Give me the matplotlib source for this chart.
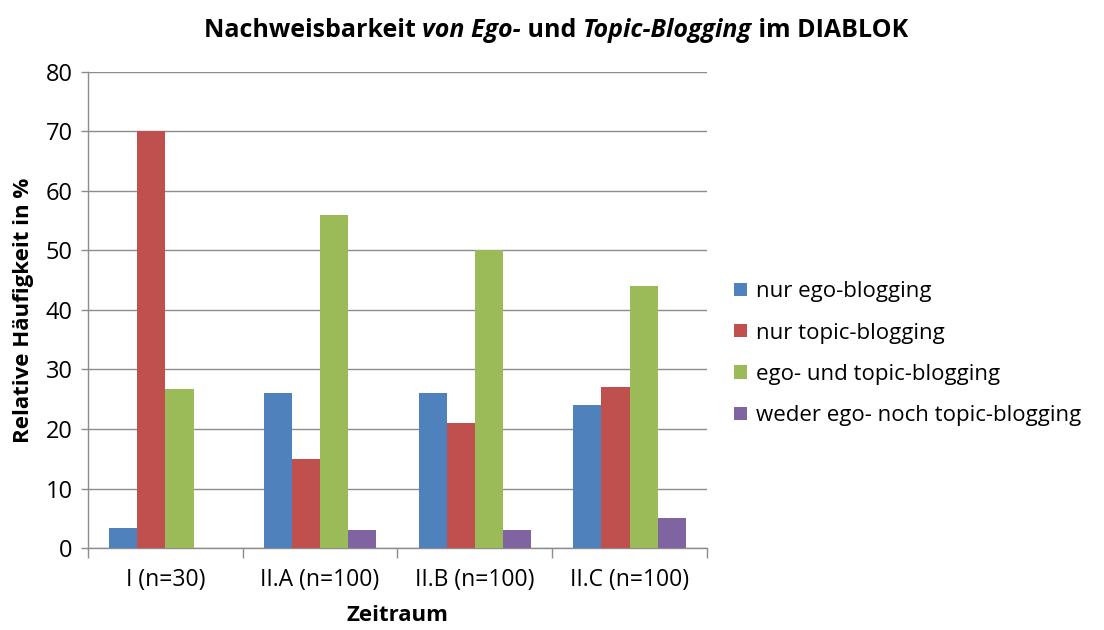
import numpy as np
import matplotlib
matplotlib.use('Agg')
import matplotlib.pyplot as plt
from matplotlib.ticker import FixedLocator

plt.rcParams['font.family'] = ['Open Sans', 'DejaVu Sans']

categories = ['I (n=30)', 'II.A (n=100)', 'II.B (n=100)', 'II.C (n=100)']
series_names = ['nur ego-blogging', 'nur topic-blogging',
                'ego- und topic-blogging', 'weder ego- noch topic-blogging']
nur_ego = [3.33, 26, 26, 24]
nur_topic = [70, 15, 21, 27]
ego_und_topic = [26.67, 56, 50, 44]
weder_noch = [0, 3, 3, 5]
colors = ['#4F81BD', '#C0504D', '#9BBB59', '#8064A2']

fig = plt.figure(figsize=(11.04, 6.3), dpi=100)
ax = fig.add_axes([0.0797, 0.130, 0.5607, 0.756])

x = np.arange(len(categories))
bw = 1 / 5.5
series = [nur_ego, nur_topic, ego_und_topic, weder_noch]
for i, (vals, name, c) in enumerate(zip(series, series_names, colors)):
    ax.bar(x + (i - 1.5) * bw, vals, width=bw, color=c, label=name, zorder=3)

grid_c = '#8c8c8c'
ax.set_xlim(-0.5, len(categories) - 0.5)
ax.set_ylim(0, 80)
ax.set_yticks(np.arange(0, 81, 10))
ax.yaxis.grid(True, color=grid_c, linewidth=1.0, zorder=0)
for s in ['top', 'right']:
    ax.spines[s].set_visible(False)
for s in ['left', 'bottom']:
    ax.spines[s].set_color(grid_c)
    ax.spines[s].set_linewidth(1.0)

ax.set_xticks(x)
ax.set_xticklabels(categories, fontsize=16.5)
ax.tick_params(axis='x', length=0, pad=14)
ax.xaxis.set_minor_locator(FixedLocator(np.arange(-0.5, len(categories), 1)))
ax.tick_params(axis='x', which='minor', length=7, color=grid_c, width=1.0)
ax.tick_params(axis='y', length=5, color=grid_c, width=1.0, labelsize=17, pad=6)

ax.set_ylabel('Relative Häufigkeit in %', fontsize=16, fontweight='bold', labelpad=8)
ax.set_xlabel('Zeitraum', fontsize=16, fontweight='bold', labelpad=10)

ax.legend(loc='center left', bbox_to_anchor=(1.012, 0.408), frameon=False,
          fontsize=16, handlelength=0.55, handleheight=0.55, handletextpad=0.4,
          labelspacing=0.92)

# title with mixed bold / bold italic pieces
pieces = [('Nachweisbarkeit ', 'normal'), ('von Ego-', 'italic'), (' und ', 'normal'),
          ('Topic-Blogging', 'italic'), (' im DIABLOK', 'normal')]
fig.canvas.draw()
renderer = fig.canvas.get_renderer()
texts = []
widths = []
for s, style in pieces:
    t = fig.text(0, 0.952, s, fontsize=18, fontweight='bold', style=style,
                 ha='left', va='center')
    bb = t.get_window_extent(renderer)
    texts.append(t)
    widths.append(bb.width)
total = sum(widths)
xpos = 556 - total / 2
for t, w in zip(texts, widths):
    t.set_x(xpos / fig.bbox.width)
    xpos += w

fig.savefig('out.png', dpi=100)
